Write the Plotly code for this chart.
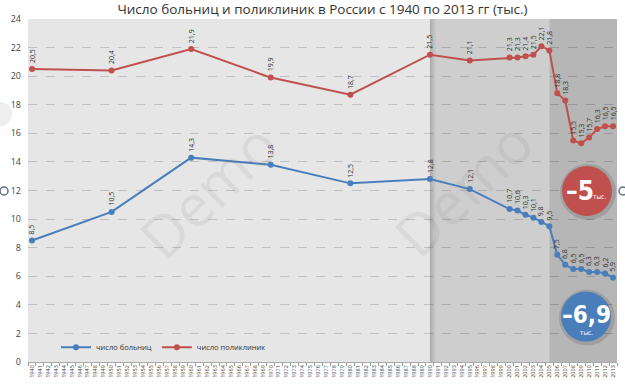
import plotly.graph_objects as go

# ---------------- data ----------------
all_years = [str(y) for y in range(1940, 2014)]
data_years = ["1940", "1950", "1960", "1970", "1980", "1990", "1995", "2000", "2001",
              "2002", "2003", "2004", "2005", "2006", "2007", "2008", "2009", "2010",
              "2011", "2012", "2013"]
hospitals = [8.5, 10.5, 14.3, 13.8, 12.5, 12.8, 12.1, 10.7, 10.6, 10.3, 10.1, 9.8, 9.5,
             7.5, 6.8, 6.5, 6.5, 6.3, 6.3, 6.2, 5.9]
clinics = [20.5, 20.4, 21.9, 19.9, 18.7, 21.5, 21.1, 21.3, 21.3, 21.4, 21.5, 22.1, 21.8,
           18.8, 18.3, 15.5, 15.3, 15.7, 16.3, 16.5, 16.5]
y_ticks = list(range(0, 25, 2))
title = "Число больниц и поликлиник в России с 1940 по 2013 гг (тыс.)"
name_h = "число больниц"
name_c = "число поликлиник"
badge_h = "–6,9"
badge_c = "–5"
badge_unit = "тыс."
band_starts = ["1990", "2005"]

BLUE = "#4a7ebb"
RED = "#c0504d"
W, H = 625, 386
ML, MR, MT, MB = 28, 8, 19, 20
PW, PH = W - ML - MR, H - MT - MB

fig = go.Figure()
fig.add_trace(go.Scatter(x=data_years, y=hospitals, name=name_h, mode="lines+markers",
                         line=dict(color=BLUE, width=2), marker=dict(size=6, color=BLUE)))
fig.add_trace(go.Scatter(x=data_years, y=clinics, name=name_c, mode="lines+markers",
                         line=dict(color=RED, width=2), marker=dict(size=6, color=RED)))

annotations = []
for series in (hospitals, clinics):
    for yr, v in zip(data_years, series):
        annotations.append(dict(x=all_years.index(yr), y=v, xref="x", yref="y",
                                text=f"{v:.1f}".replace(".", ","), textangle=-90,
                                showarrow=False, yanchor="bottom", xanchor="center",
                                yshift=4, font=dict(size=7, color="#333333",
                                                    family="Open Sans")))

i1 = all_years.index(band_starts[0])
i2 = all_years.index(band_starts[1])
iend = len(all_years) - 0.5

shapes = [
    dict(type="rect", xref="x", yref="paper", x0=i1, x1=i2, y0=0, y1=1,
         fillcolor="#cecece", line=dict(width=0), layer="below"),
    dict(type="rect", xref="x", yref="paper", x0=i2, x1=iend, y0=0, y1=1,
         fillcolor="#b6b6b6", line=dict(width=0), layer="below"),
]
# soft shadow at the 1990 boundary
for k, op in enumerate([0.16, 0.11, 0.07, 0.04]):
    shapes.append(dict(type="rect", xref="x", yref="paper", x0=i1 + k * 0.18,
                       x1=i1 + (k + 1) * 0.18, y0=0, y1=1,
                       fillcolor=f"rgba(0,0,0,{op})", line=dict(width=0), layer="below"))


def px_x(px):
    return (px - ML) / PW


def px_y(py):
    return (MT + PH - py) / PH


def badge(cx, cy, r, color):
    return [
        dict(type="circle", xref="paper", yref="paper", xsizemode="pixel",
             ysizemode="pixel", xanchor=px_x(cx + 1), yanchor=px_y(cy + 1),
             x0=-r - 3, x1=r + 3, y0=-r - 3, y1=r + 3,
             fillcolor="rgba(0,0,0,0.12)", line=dict(width=0), layer="above"),
        dict(type="circle", xref="paper", yref="paper", xsizemode="pixel",
             ysizemode="pixel", xanchor=px_x(cx), yanchor=px_y(cy),
             x0=-r, x1=r, y0=-r, y1=r, fillcolor=color,
             line=dict(width=0), layer="above"),
    ]


shapes += badge(587, 193, 25, RED)
shapes += badge(586, 320, 25, BLUE)
# decorative page circles
shapes.append(dict(type="circle", xref="paper", yref="paper", xsizemode="pixel",
                   ysizemode="pixel", xanchor=px_x(0), yanchor=px_y(115),
                   x0=-12, x1=12, y0=-12, y1=12, fillcolor="#eeeeee",
                   line=dict(width=0)))
for cx in (4, 623):
    shapes.append(dict(type="circle", xref="paper", yref="paper", xsizemode="pixel",
                       ysizemode="pixel", xanchor=px_x(cx), yanchor=px_y(193),
                       x0=-4, x1=4, y0=-4, y1=4, fillcolor="rgba(0,0,0,0)",
                       line=dict(width=1.5, color="#5d6f86")))

cond = "DejaVu Sans Condensed"


def lab(px, py, text, size):
    return dict(xref="paper", yref="paper", x=px_x(px), y=px_y(py), text=text,
                showarrow=False, xanchor="center", yanchor="middle",
                font=dict(size=size, color="white", family=cond))


annotations += [
    lab(580, 193, f"<b>{badge_c}</b>", 26),
    lab(599, 199, badge_unit, 6.5),
    lab(586, 318, f"<b>{badge_h}</b>", 24),
    lab(586, 337, badge_unit, 6.5),
]
# watermarks
for cx, cy in ((207, 192), (462, 190)):
    annotations.append(dict(xref="paper", yref="paper", x=px_x(cx), y=px_y(cy),
                            xanchor="center", yanchor="middle",
                            text="Demo", textangle=-44, showarrow=False,
                            font=dict(size=58, color="rgba(120,120,120,0.11)",
                                      family="Open Sans")))

fig.update_layout(
    width=W, height=H,
    margin=dict(l=ML, r=MR, t=MT, b=MB),
    paper_bgcolor="white",
    plot_bgcolor="#e6e6e6",
    title=dict(text=title, x=0.5, xref="paper", y=1 - 9 / H, yanchor="middle",
               font=dict(size=13.5, color="#333333", family="Open Sans")),
    xaxis=dict(type="category", categoryorder="array", categoryarray=all_years,
               tickvals=all_years, range=[-0.5, len(all_years) - 0.5],
               tickangle=-90, tickfont=dict(size=5.5, color="#444444", family="Open Sans"),
               ticks="outside", ticklen=3, tickcolor="#999999", tickson="boundaries",
               showgrid=False, showline=True, linecolor="#aaaaaa", linewidth=1,
               zeroline=False, fixedrange=True),
    yaxis=dict(range=[0, 24], tickvals=y_ticks, showgrid=True,
               gridcolor="rgba(0,0,0,0.16)", griddash="dash", gridwidth=1,
               zeroline=False, tickfont=dict(size=9, color="#444444", family="Open Sans"),
               ticks="", ticklabelstandoff=6),
    legend=dict(orientation="h", x=px_x(56), y=px_y(351), xanchor="left",
                yanchor="middle", bgcolor="rgba(0,0,0,0)",
                font=dict(size=7.5, color="#333333", family="Open Sans"),
                itemwidth=30, tracegroupgap=0),
    showlegend=True,
    shapes=shapes,
    annotations=annotations,
)

fig.write_html("out.html")
